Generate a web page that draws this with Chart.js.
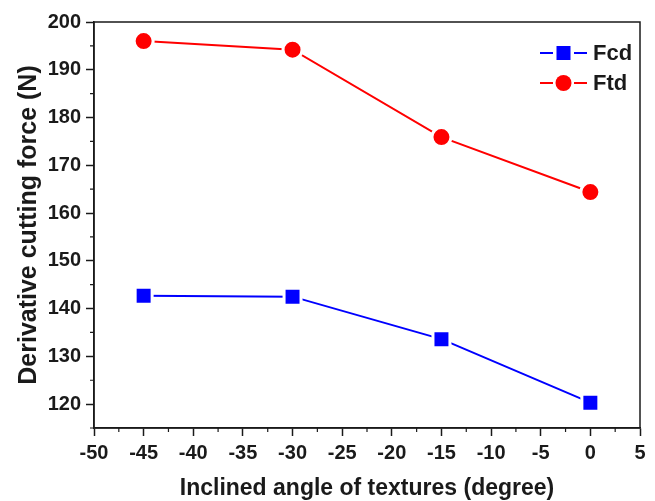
<!DOCTYPE html>
<html>
<head>
<meta charset="utf-8">
<script src="https://cdn.jsdelivr.net/npm/chart.js@4/dist/chart.umd.min.js"></script>
<style>
  html, body { margin: 0; padding: 0; background: #fff; }
  #wrap { position: relative; width: 655px; height: 501px; }
</style>
</head>
<body>
<div id="wrap"><canvas id="c"></canvas></div>
<script>
// angles (degree)
const angles = [-45, -30, -15, 0];
// derivative cutting forces (N)
const fcd = [142.7, 142.5, 133.6, 120.3];
const ftd = [196.0, 194.2, 175.9, 164.4];
const seriesNames = ['Fcd', 'Ftd'];

const FONT = 'Liberation Sans, Arial, sans-serif';
const INK = '#1a1a1a';

const toPoints = (vals) => angles.map((a, i) => ({ x: a, y: vals[i] }));

// frame on top/right + minor ticks on left/bottom
const framePlugin = {
  id: 'frame',
  afterDraw(chart) {
    const { ctx, chartArea: a, scales } = chart;
    ctx.save();
    ctx.strokeStyle = INK;
    ctx.lineWidth = 1.5;
    ctx.strokeRect(a.left, a.top, a.right - a.left, a.bottom - a.top);

    ctx.lineWidth = 1.2;
    ctx.beginPath();
    for (let v = -47.5; v < 5; v += 5) {
      const px = scales.x.getPixelForValue(v);
      ctx.moveTo(px, a.bottom);
      ctx.lineTo(px, a.bottom + 4);
    }
    for (let v = 115; v < 200; v += 10) {
      const py = scales.y.getPixelForValue(v);
      ctx.moveTo(a.left, py);
      ctx.lineTo(a.left - 4, py);
    }
    ctx.stroke();
    ctx.restore();
  }
};

// Origin-style legend: line - marker - line
const legendPlugin = {
  id: 'originLegend',
  afterDraw(chart) {
    const { ctx, chartArea: a } = chart;
    ctx.save();
    chart.data.datasets.forEach((ds, i) => {
      const y = a.top + 31 + i * 30;
      const x0 = a.right - 100;
      ctx.strokeStyle = ds.borderColor;
      ctx.lineWidth = 2;
      ctx.beginPath();
      ctx.moveTo(x0, y); ctx.lineTo(x0 + 13, y);
      ctx.moveTo(x0 + 34, y); ctx.lineTo(x0 + 47, y);
      ctx.stroke();
      ctx.fillStyle = ds.pointBackgroundColor;
      if (ds.pointStyle === 'rect') {
        ctx.fillRect(x0 + 16.5, y - 7, 14, 14);
      } else {
        ctx.beginPath();
        ctx.arc(x0 + 23.5, y, 8, 0, Math.PI * 2);
        ctx.fill();
      }
      ctx.fillStyle = INK;
      ctx.font = 'bold 22px ' + FONT;
      ctx.textBaseline = 'middle';
      ctx.fillText(ds.label, x0 + 53, y + 1);
    });
    ctx.restore();
  }
};

new Chart(document.getElementById('c'), {
  type: 'line',
  data: {
    datasets: [
      {
        label: seriesNames[0],
        data: toPoints(fcd),
        borderColor: '#0000ff',
        backgroundColor: '#0000ff',
        borderWidth: 2,
        pointStyle: 'rect',
        pointRadius: 12,
        pointHoverRadius: 12,
        pointBackgroundColor: '#0000ff',
        pointBorderColor: '#ffffff',
        pointBorderWidth: 3,
        tension: 0
      },
      {
        label: seriesNames[1],
        data: toPoints(ftd),
        borderColor: '#ff0000',
        backgroundColor: '#ff0000',
        borderWidth: 2,
        pointStyle: 'circle',
        pointRadius: 9.5,
        pointHoverRadius: 9.5,
        pointBackgroundColor: '#ff0000',
        pointBorderColor: '#ffffff',
        pointBorderWidth: 3,
        tension: 0
      }
    ]
  },
  options: {
    responsive: true,
    maintainAspectRatio: false,
    animation: false,
    layout: { padding: { top: 22, right: 15, left: 0, bottom: 0 } },
    plugins: { legend: { display: false }, tooltip: { enabled: false } },
    scales: {
      x: {
        type: 'linear',
        min: -50,
        max: 5,
        grid: { drawOnChartArea: false, drawTicks: true, tickLength: 8, tickColor: INK, tickWidth: 1.5 },
        border: { display: true, color: INK, width: 1.5 },
        ticks: { stepSize: 5, color: INK, padding: 5, font: { family: FONT, size: 20, weight: 'bold' } },
        title: {
          display: true,
          text: 'Inclined angle of textures (degree)',
          color: INK,
          padding: { top: 0, bottom: 1 },
          font: { family: FONT, size: 23, weight: 'bold', lineHeight: 1 }
        },
        afterFit(s) { s.height = 73; }
      },
      y: {
        min: 115,
        max: 200,
        grid: { drawOnChartArea: false, drawTicks: true, tickLength: 8, tickColor: INK, tickWidth: 1.5 },
        border: { display: true, color: INK, width: 1.5 },
        ticks: { stepSize: 10, includeBounds: false, color: INK, padding: 5, font: { family: FONT, size: 20, weight: 'bold' } },
        title: {
          display: true,
          text: 'Derivative cutting force (N)',
          color: INK,
          padding: { top: 17, bottom: 0 },
          font: { family: FONT, size: 25, weight: 'bold', lineHeight: 1 }
        },
        afterFit(s) { s.width = 94; }
      }
    }
  },
  plugins: [framePlugin, legendPlugin]
});
</script>
</body>
</html>
